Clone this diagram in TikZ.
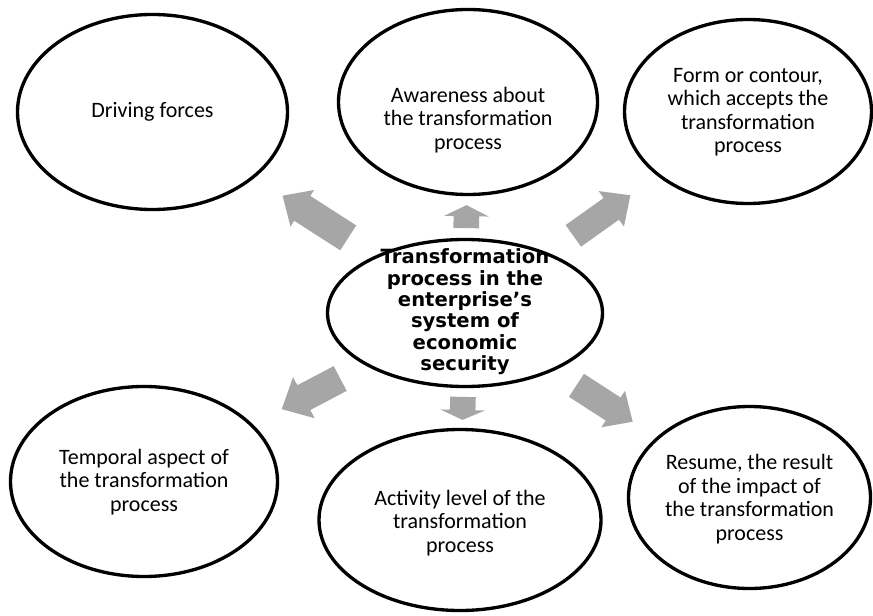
\documentclass[tikz,border=0pt]{standalone}
\usepackage{fontspec}
\setmainfont{Carlito}
\newfontfamily\centerfont{DejaVu Sans}
\usetikzlibrary{shapes.geometric,shapes.arrows}
\definecolor{arrowgray}{RGB}{166,166,166}
\begin{document}
\begin{tikzpicture}[x=0.75pt,y=-0.75pt,
  oval/.style={ellipse, draw=black, line width=2.5pt, inner sep=0pt},
  lbl/.style={align=center, font=\fontsize{16.5}{17.6}\selectfont},
  centerlbl/.style={align=center, font=\centerfont\bfseries\fontsize{14.7}{16}\selectfont},
  blockarrow/.style={single arrow, fill=arrowgray, draw=none, inner xsep=0pt,
    single arrow head indent=0pt, sloped, allow upside down, anchor=tail}]
\useasboundingbox (0,0) rectangle (873,616);

% text first, ellipse borders over it
\node[lbl] (dft) at (152.5,112) {Driving forces};
\node[lbl] (awt) at (468,120) {Awareness about\\the transformation\\process};
\node[lbl] (fot) at (748,112) {Form or contour,\\which accepts the\\transformation\\process};
\node[centerlbl] (ct) at (465,312) {Transformation\\process in the\\enterprise’s\\system of\\economic\\security};
\node[lbl] (tet) at (144,482) {Temporal aspect of\\the transformation\\process};
\node[lbl] (act) at (460,523) {Activity level of the\\transformation\\process};
\node[lbl] (ret) at (749.5,499) {Resume, the result\\of the impact of\\the transformation\\process};

\node[oval, minimum width=202.5pt, minimum height=146.25pt] (df) at (152.5,112) {};
\node[oval, minimum width=194.25pt, minimum height=138.75pt] (aw) at (468,102) {};
\node[oval, minimum width=185.25pt, minimum height=138pt] (fo) at (748,111.5) {};
\node[oval, minimum width=206.25pt, minimum height=110.25pt] (c) at (465,313) {};
\node[oval, minimum width=200.25pt, minimum height=142.5pt] (te) at (144,481.5) {};
\node[oval, minimum width=211.5pt, minimum height=135.75pt] (ac) at (460,520) {};
\node[oval, minimum width=181.5pt, minimum height=136.5pt] (re) at (749.5,497.5) {};

% block arrows from the centre outwards
\path (c.center) -- (df.center) node[blockarrow, pos=0.373, minimum height=58.5pt,
  inner ysep=10.9pt, single arrow head extend=5.25pt, single arrow tip angle=86] (a1) {};
\path (c.center) -- (aw.center) node[blockarrow, pos=0.401, minimum height=17.25pt,
  inner ysep=9.4pt, single arrow head extend=7.1pt, single arrow tip angle=127] (a2) {};
\path (c.center) -- (fo.center) node[blockarrow, pos=0.382, minimum height=52.5pt,
  inner ysep=9.75pt, single arrow head extend=6.4pt, single arrow tip angle=86] (a3) {};
\path (c.center) -- (te.center) node[blockarrow, pos=0.388, minimum height=49.5pt,
  inner ysep=10.3pt, single arrow head extend=6.9pt, single arrow tip angle=86] (a4) {};
\path (c.center) -- (ac.center) node[blockarrow, pos=0.404, minimum height=17.25pt,
  inner ysep=9.4pt, single arrow head extend=7.1pt, single arrow tip angle=132] (a5) {};
\path (c.center) -- (re.center) node[blockarrow, pos=0.391, minimum height=50.25pt,
  inner ysep=10.1pt, single arrow head extend=6pt, single arrow tip angle=86] (a6) {};
\end{tikzpicture}
\end{document}
